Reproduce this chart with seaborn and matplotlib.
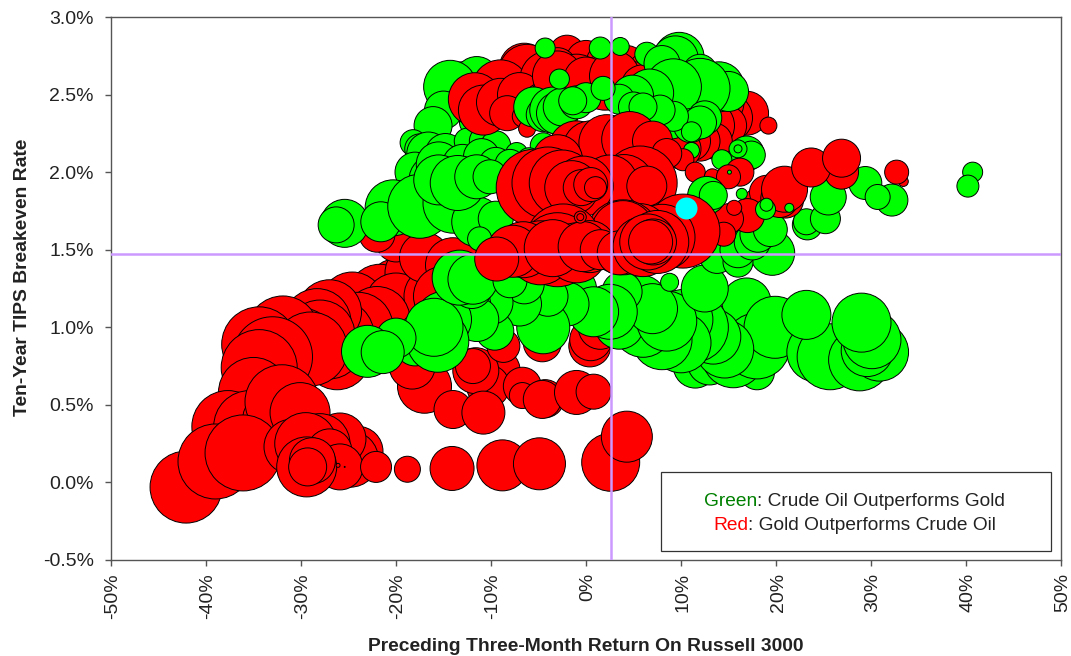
import pandas as pd
import matplotlib
matplotlib.use('Agg')
import matplotlib.pyplot as plt
from matplotlib.patches import Rectangle
from matplotlib.ticker import FuncFormatter, MultipleLocator
from matplotlib.transforms import ScaledTranslation
import seaborn as sns

# (three-month return %, breakeven rate %, bubble width), drawn in this order
low_red = [
    (-23, 0.92, 72), (-26.2, 0.81, 66), (-19.9, 1.25, 60), (-21.7, 1.2, 64), (-24.6, 1.15, 64),
    (-18, 1.35, 60), (-20, 1.15, 62), (-18, 1.0, 60), (-16, 1.2, 60), (-14, 1.3, 60),
    (-22, 1.05, 66), (-24, 1.0, 70), (-26, 0.95, 70), (-27, 0.88, 66),
    (-27, 1.1, 64), (-28.3, 1.03, 68), (-28, 0.95, 70), (-30, 0.9, 70), (-31.9, 0.97, 72),
    (-29, 0.86, 74), (-34.4, 0.89, 75),
    (-33, 0.81, 80), (-34.4, 0.74, 76), (-35, 0.58, 70), (-37.7, 0.36, 72), (-35.4, 0.36, 72),
    (-33, 0.4, 60), (-32, 0.52, 74), (-30.1, 0.45, 60), (-42.1, -0.03, 72), (-39, 0.135, 75),
    (-36.1, 0.19, 76), (-31, 0.23, 55), (-24, 0.2, 50), (-24.8, 0.15, 56), (-25.9, 0.28, 52),
    (-28, 0.25, 60), (-29.5, 0.25, 62), (-27, 0.2, 45), (-25.9, 0.1, 46), (-29.4, 0.1, 60),
    (-28.8, 0.14, 46), (-29.3, 0.1, 38), (-26.1, 0.11, 4), (-25.4, 0.1, 1), (-22.1, 0.1, 31),
    (-18.8, 0.085, 26), (-14.1, 0.09, 44), (-8.8, 0.11, 51), (-4.9, 0.12, 52), (2.6, 0.13, 58),
    (4.3, 0.295, 51), (-20, 1.55, 40), (-22, 1.6, 36), (-17, 1.45, 50), (-14, 1.4, 55),
    (-15, 1.2, 60), (-12, 1.3, 50), (-17, 0.62, 54), (-18.3, 0.75, 46), (-14, 0.47, 38),
    (-9.3, 0.72, 45), (-10.3, 0.62, 43), (-11.6, 0.72, 46), (-11.9, 0.75, 35), (-10.8, 0.45, 43),
    (-8.7, 0.88, 33), (-6.7, 0.62, 38), (-6.7, 0.56, 26), (-4.3, 0.54, 38), (-4.6, 0.535, 38),
    (-1, 0.58, 44), (0.8, 0.585, 35), (-4.6, 0.9, 38), (0.4, 0.88, 42), (0.5, 0.92, 42),
    (1.5, 1.0, 44),
]
low_green = [
    (18, 0.71, 35), (11.5, 0.75, 44), (13, 0.77, 44), (15.5, 0.81, 62), (16.9, 1.16, 49),
    (18, 0.88, 66), (19.9, 1.0, 62), (14.6, 0.86, 58), (13.4, 0.94, 55), (24.3, 0.84, 60),
    (25.7, 0.81, 66), (23.2, 1.08, 49), (28.8, 0.79, 62), (30.9, 0.84, 58), (29.6, 0.85, 52),
    (30.1, 0.92, 58), (29, 1.03, 59), (11.3, 1.0, 70), (10.2, 1.05, 60), (10, 0.9, 60),
    (8, 0.92, 60), (6, 1.0, 60), (3.5, 1.02, 50), (8.5, 1.04, 60),
    (5.9, 1.18, 48), (7, 1.12, 50), (3.8, 1.23, 40), (2.5, 1.1, 55), (8.8, 1.29, 18),
    (12.5, 1.25, 47), (-1, 1.25, 40), (0.8, 1.1, 50), (-2, 1.15, 44), (-4.5, 1.0, 53), (-4, 1.2, 40),
    (-7, 1.15, 44), (-6.5, 1.28, 40), (-9.6, 0.975, 38), (-10, 1.16, 44), (-13, 1.15, 56),
    (-11.5, 1.05, 44), (-17, 0.95, 50), (-18, 0.88, 40), (-15, 1.05, 56), (-15.6, 0.91, 62),
    (-16, 1.0, 58), (-20, 0.93, 40), (-23, 0.845, 52), (-21.4, 0.84, 43), (-12, 1.25, 40),
    (-13.3, 1.32, 55), (-11.9, 1.31, 50), (-8, 1.3, 34),
    (19.6, 1.48, 45), (13.8, 1.46, 35), (16, 1.42, 30), (16, 1.5, 36), (17.5, 1.55, 36),
    (18.1, 1.6, 36), (19.4, 1.63, 34), (23.3, 1.66, 30), (23.2, 1.68, 26), (25.2, 1.7, 30),
    (25.5, 1.84, 36), (29.4, 1.93, 33), (32.2, 1.82, 32), (30.7, 1.84, 25), (40.7, 2.0, 20),
    (40.2, 1.91, 22),
]
left_green = [
    (-13, 2.55, 50), (-11.5, 2.6, 45), (-14.3, 2.55, 53), (-15, 2.4, 38), (-16.1, 2.3, 38),
    (-18.2, 2.19, 26), (-17.5, 2.15, 30), (-16.6, 2.12, 43), (-14.8, 2.12, 40), (-12, 2.32, 25),
    (-12.5, 2.2, 26), (-10.7, 2.2, 30), (-9.5, 2.17, 30), (-7.3, 2.12, 22), (-4.5, 2.17, 26),
    (-6, 2.08, 24), (-18, 2.0, 40), (-16, 1.95, 50), (-15.5, 2.05, 45), (-13, 2.05, 40),
    (-11, 2.1, 36), (-9.5, 2.05, 34), (-8, 2.05, 30), (-25.4, 1.67, 48), (-26.3, 1.66, 36),
    (-20.3, 1.77, 56), (-21.6, 1.68, 40), (-17.5, 1.78, 64), (-14, 1.8, 60), (-11.5, 1.68, 50),
    (-9.5, 1.7, 35), (-15.5, 1.95, 50), (-13.5, 1.93, 55), (-11.5, 1.97, 44), (-10.1, 1.97, 34),
    (-11.2, 1.57, 24),
]
upper_red = [
    (-2, 2.77, 35), (0, 2.72, 40), (-3, 2.68, 38), (2.2, 2.7, 42), (4.3, 2.7, 36),
    (6, 2.68, 26), (8.8, 2.72, 20), (-6.5, 2.67, 50), (-6.2, 2.64, 57), (-9, 2.54, 57),
    (-4, 2.6, 56), (-1, 2.58, 56), (2, 2.58, 56), (5, 2.55, 50), (7, 2.5, 44),
    (-11.7, 2.47, 53), (-10.8, 2.4, 50), (-9, 2.45, 48), (-7, 2.5, 44), (-8.3, 2.38, 35),
    (-4.5, 2.45, 40), (-6.6, 2.36, 22), (-6.2, 2.28, 17), (-4.2, 2.5, 30), (-3, 2.62, 50),
    (0, 2.6, 44), (3, 2.62, 50), (6, 2.55, 44), (16.9, 2.38, 44), (19.2, 2.3, 17),
    (15, 2.35, 48), (14, 2.45, 50), (14.8, 2.3, 40), (13, 2.3, 50), (13.5, 2.2, 36),
    (12, 2.2, 40), (11, 2.2, 40), (8, 2.18, 44), (10, 2.15, 40),
]
upper_green = [
    (-4.3, 2.8, 20), (1.5, 2.8, 22), (3.6, 2.81, 18), (6.4, 2.76, 24), (9.8, 2.74, 50),
    (9.4, 2.73, 46), (8, 2.7, 36), (12, 2.65, 34), (14, 2.55, 50), (15, 2.52, 40), (12, 2.54, 60),
    (9.2, 2.55, 56), (6.7, 2.51, 48), (4.9, 2.49, 42), (3.5, 2.47, 30), (5, 2.42, 30),
    (7, 2.38, 32), (9, 2.33, 36), (11, 2.3, 34), (12.5, 2.35, 34), (12, 2.32, 33),
    (9.2, 2.36, 30), (7.8, 2.4, 30), (6, 2.42, 28), (11.1, 2.14, 16), (11.1, 2.26, 20),
    (-5.5, 2.42, 40), (-4.5, 2.37, 34), (-3.5, 2.4, 46), (-3, 2.38, 42), (-2.5, 2.42, 38),
    (-1, 2.45, 33), (0, 2.48, 30), (-1.4, 2.46, 28), (1.8, 2.54, 24), (-2.8, 2.6, 20),
    (16.9, 2.12, 35), (14.3, 2.08, 20), (17.4, 2.11, 28), (16, 2.15, 18), (16, 2.15, 8),
]
right_red = [
    (10.2, 2.08, 22), (11.5, 2.0, 20), (13.3, 1.97, 16), (16.2, 2.0, 28), (15, 1.97, 24),
    (18.1, 1.8, 30), (19, 1.87, 34), (17, 1.72, 34), (15, 1.7, 30), (15.6, 1.77, 15),
    (14.5, 1.6, 24), (21, 1.82, 36), (20.4, 1.83, 38), (20.9, 1.89, 46), (26.9, 2.0, 34),
    (23.7, 2.03, 39), (26.9, 2.09, 38), (33.4, 1.94, 10), (32.7, 2.0, 24),
]
right_green = [
    (12.7, 1.85, 38), (13.4, 1.85, 28), (15.1, 2.0, 4), (16.4, 1.86, 11), (18.9, 1.76, 20),
    (19, 1.79, 13), (21.4, 1.77, 9),
]
middle_red = [
    (-1, 2.15, 56), (0.5, 2.15, 56), (2.2, 2.19, 56), (4.6, 2.21, 56), (7, 2.2, 40),
    (-3, 2.08, 50), (8.5, 2.12, 30), (-5.4, 1.9, 77), (-4, 1.93, 72), (-2.5, 1.93, 66),
    (5.7, 1.93, 74), (4, 1.92, 60), (2.5, 1.93, 56), (6.4, 1.91, 40), (-0.3, 1.91, 60),
    (-1.5, 1.9, 54), (-0.5, 1.9, 36), (0.5, 1.92, 34), (1, 1.9, 22),
]
center_red = [
    (10.2, 1.62, 74), (8, 1.58, 66), (5.7, 1.61, 58), (3.9, 1.58, 75), (3.9, 1.61, 64),
    (-2.4, 1.55, 76), (-3, 1.5, 74), (-4.8, 1.48, 64), (-6.6, 1.5, 56), (-7.7, 1.49, 52),
    (-9.4, 1.44, 44), (-1, 1.48, 60), (-3.5, 1.51, 57), (0.4, 1.52, 52), (-0.3, 1.52, 50),
    (1.5, 1.5, 40), (3.5, 1.48, 44), (6, 1.52, 60), (7.5, 1.55, 63), (6.5, 1.55, 56),
    (7.1, 1.55, 46), (6.8, 1.55, 44), (-0.6, 1.71, 12), (-0.6, 1.71, 7),
]
current_point = [(10.5, 1.77, 22)]

x_ticks = list(range(-50, 51, 10))
x_label = 'Preceding Three-Month Return On Russell 3000'
y_label = 'Ten-Year TIPS Breakeven Rate'

layers = [(low_red, 'Red'), (low_green, 'Green'), (left_green, 'Green'), (upper_red, 'Red'),
          (upper_green, 'Green'), (right_red, 'Red'), (right_green, 'Green'),
          (middle_red, 'Red'), (center_red, 'Red')]
rows = []
for points, winner in layers:
    for ret, rate, width in points:
        rows.append({'ret': ret, 'rate': rate, 'area': width ** 2, 'winner': winner})
df = pd.DataFrame(rows)

sns.set_style('white')
plt.rcParams['font.family'] = ['Liberation Sans', 'DejaVu Sans']

fig = plt.figure(figsize=(10.71, 6.56), dpi=100)
ax = fig.add_axes([111 / 1071, 1 - 560 / 656, 950 / 1071, 543 / 656])

# width^2 in pixels -> points^2 at 100 dpi
sns.scatterplot(data=df, x='ret', y='rate', hue='winner', size='area', ax=ax,
                palette={'Red': '#FF0000', 'Green': '#00FF00'},
                sizes=(0, 5184), size_norm=(0, 10000),
                edgecolor='black', linewidth=0.7, legend=False, zorder=2)
cur = pd.DataFrame(current_point, columns=['ret', 'rate', 'width'])
sns.scatterplot(data=cur, x='ret', y='rate', color='#00FFFF', s=cur['width'] ** 2 * 0.5184,
                linewidth=0, ax=ax, legend=False, zorder=3)

ax.axvline(2.6, color='#CC99FF', lw=1.8, zorder=4)
ax.axhline(1.47, color='#CC99FF', lw=1.8, zorder=4)

ax.set_xlim(-50, 50)
ax.set_ylim(-0.5, 3.0)
ax.set_xticks(x_ticks)
ax.yaxis.set_major_locator(MultipleLocator(0.5))
ax.xaxis.set_major_formatter(FuncFormatter(lambda v, p: f'{v:.0f}%'))
ax.yaxis.set_major_formatter(FuncFormatter(lambda v, p: f'{v:.1f}%'))
ax.tick_params(axis='x', labelsize=14, labelcolor='#222222', rotation=90, length=4.5, width=1,
               color='#555555', pad=5, bottom=True)
ax.tick_params(axis='y', labelsize=14, labelcolor='#222222', length=4.5, width=1,
               color='#555555', pad=8, left=True)
nudge = ScaledTranslation(2 / 100, 0, fig.dpi_scale_trans)
for lab in ax.get_xticklabels():
    lab.set_transform(lab.get_transform() + nudge)
for s in ax.spines.values():
    s.set_color('#555555')
    s.set_linewidth(1)
ax.set_xlabel(x_label, fontsize=13.9, fontweight='bold', color='#222222')
ax.set_ylabel(y_label, fontsize=13.9, fontweight='bold', color='#222222')
ax.xaxis.set_label_coords(0.4995, -0.143)
ax.yaxis.set_label_coords(-0.084, 0.521)

# legend box made of two coloured lines
ax.add_patch(Rectangle((661 / 1071, 1 - 551 / 656), 390 / 1071, 79 / 656, transform=fig.transFigure,
                       facecolor='white', edgecolor='#333333', lw=0.9, zorder=5))
t1 = ax.text(704 / 1071, 1 - 502 / 656, 'Green', color='#008000', fontsize=13.8, va='center',
             transform=fig.transFigure, zorder=6)
ax.annotate(': Crude Oil Outperforms Gold', xy=(1, 0.5), xycoords=t1, va='center', fontsize=13.8,
            color='#222222', annotation_clip=False, zorder=6)
t2 = ax.text(713 / 1071, 1 - 525 / 656, 'Red', color='#FF0000', fontsize=13.8, va='center',
             transform=fig.transFigure, zorder=6)
ax.annotate(': Gold Outperforms Crude Oil', xy=(1, 0.5), xycoords=t2, va='center', fontsize=13.8,
            color='#222222', annotation_clip=False, zorder=6)

plt.savefig('out.png', dpi=100)
plt.close()
